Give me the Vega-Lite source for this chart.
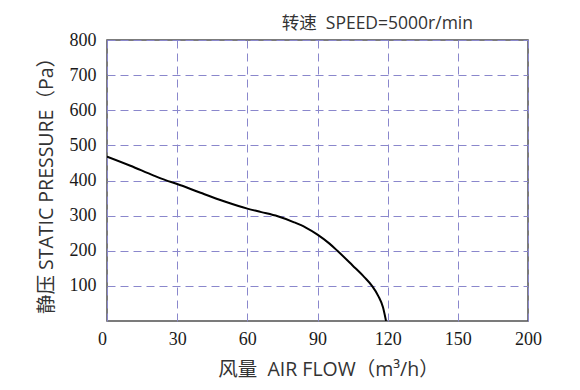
{
  "$schema": "https://vega.github.io/schema/vega-lite/v6.json",
  "autosize": "none",
  "width": 421,
  "height": 281,
  "padding": {"left": 107, "top": 40, "right": 52, "bottom": 69},
  "background": "white",
  "title": {
    "text": "转速\u00a0\u00a0SPEED=5000r/min",
    "anchor": "end",
    "frame": "group",
    "orient": "top",
    "offset": -1,
    "dx": -55,
    "font": "Open Sans, Noto Sans CJK SC",
    "fontSize": 17.5,
    "fontWeight": "normal",
    "color": "#333333"
  },
  "config": {
    "view": {"stroke": "#505050", "strokeWidth": 1.5},
    "axis": {
      "labelFont": "Liberation Serif",
      "labelFontSize": 18,
      "labelColor": "#1a1a1a",
      "titleFont": "Open Sans, Noto Sans CJK SC",
      "titleFontSize": 18,
      "titleFontWeight": "normal",
      "titleColor": "#333333",
      "grid": true,
      "gridColor": "#8a87cc",
      "gridDash": [8, 5],
      "gridWidth": 1,
      "domain": false,
      "ticks": false
    }
  },
  "data": {
    "values": [
      {"flow": 0, "pressure": 468},
      {"flow": 10, "pressure": 442},
      {"flow": 20, "pressure": 414},
      {"flow": 25, "pressure": 401},
      {"flow": 30, "pressure": 390},
      {"flow": 40, "pressure": 365},
      {"flow": 50, "pressure": 341},
      {"flow": 60, "pressure": 320},
      {"flow": 66, "pressure": 310},
      {"flow": 73, "pressure": 298},
      {"flow": 80, "pressure": 281},
      {"flow": 85, "pressure": 266},
      {"flow": 90, "pressure": 246},
      {"flow": 95, "pressure": 221},
      {"flow": 98.5, "pressure": 200},
      {"flow": 105, "pressure": 158},
      {"flow": 110, "pressure": 125},
      {"flow": 113.3, "pressure": 100},
      {"flow": 116, "pressure": 71},
      {"flow": 118, "pressure": 39},
      {"flow": 119.3, "pressure": 0}
    ]
  },
  "mark": {"type": "line", "color": "#000000", "strokeWidth": 2, "interpolate": "monotone", "clip": true},
  "encoding": {
    "x": {
      "field": "flow",
      "type": "quantitative",
      "scale": {"domain": [0, 180], "nice": false, "zero": false},
      "axis": {
        "values": [0, 30, 60, 90, 120, 150, 180],
        "labelExpr": "datum.value == 180 ? '200' : datum.value",
        "labelFlush": false,
        "labelOffset": {"condition": {"test": "datum.value == 0", "value": -5}, "value": 0},
        "labelPadding": 9,
        "title": "风量\u00a0\u00a0AIR FLOW（m³/h）",
        "titleFontSize": 19.5,
        "titleX": 221,
        "titlePadding": 12
      }
    },
    "y": {
      "field": "pressure",
      "type": "quantitative",
      "scale": {"domain": [0, 800], "nice": false},
      "axis": {
        "values": [100, 200, 300, 400, 500, 600, 700, 800],
        "labelPadding": 11,
        "title": "静压\u00a0STATIC PRESSURE（Pa）",
        "titleFontSize": 19.5,
        "titlePadding": 13
      }
    }
  }
}
